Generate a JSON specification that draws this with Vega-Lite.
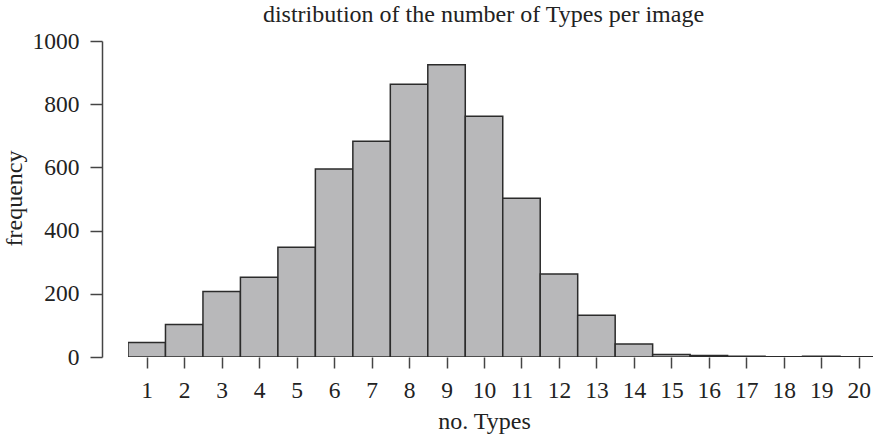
{
  "$schema": "https://vega.github.io/schema/vega-lite/v6.json",
  "width": 745,
  "height": 316,
  "autosize": {"type": "none"},
  "padding": {"left": 128, "top": 41, "right": 0, "bottom": 80},
  "background": "white",
  "config": {
    "view": {"stroke": null},
    "font": "Liberation Serif",
    "axis": {
      "labelFont": "Liberation Serif",
      "titleFont": "Liberation Serif",
      "labelFontSize": 23.5,
      "titleFontSize": 24,
      "labelColor": "#222222",
      "titleColor": "#222222",
      "titleFontWeight": "normal",
      "domainColor": "#444444",
      "tickColor": "#444444",
      "domainWidth": 1.5,
      "tickWidth": 1.5,
      "grid": false
    }
  },
  "title": {
    "text": "distribution of the number of Types per image",
    "font": "Liberation Serif",
    "fontSize": 24,
    "fontWeight": "normal",
    "color": "#222222",
    "anchor": "middle",
    "frame": "group",
    "baseline": "alphabetic",
    "offset": -17,
    "dx": -17
  },
  "data": {
    "values": [
      {"types": 1, "frequency": 46},
      {"types": 2, "frequency": 103},
      {"types": 3, "frequency": 207},
      {"types": 4, "frequency": 252},
      {"types": 5, "frequency": 347},
      {"types": 6, "frequency": 595},
      {"types": 7, "frequency": 683},
      {"types": 8, "frequency": 863},
      {"types": 9, "frequency": 925},
      {"types": 10, "frequency": 762},
      {"types": 11, "frequency": 502},
      {"types": 12, "frequency": 263},
      {"types": 13, "frequency": 132},
      {"types": 14, "frequency": 41},
      {"types": 15, "frequency": 8},
      {"types": 16, "frequency": 5},
      {"types": 17, "frequency": 2},
      {"types": 18, "frequency": 1},
      {"types": 19, "frequency": 2},
      {"types": 20, "frequency": 1}
    ]
  },
  "transform": [
    {"bin": {"step": 1, "extent": [0.5, 20.5], "nice": false}, "field": "types", "as": ["lo", "hi"]}
  ],
  "mark": {"type": "bar", "fill": "#b8b8ba", "stroke": "#2b2b2b", "strokeWidth": 1.5, "clip": true},
  "encoding": {
    "x": {
      "field": "lo",
      "type": "quantitative",
      "scale": {"domain": [0.5, 20.38], "nice": false, "zero": false},
      "axis": {
        "title": "no. Types",
        "values": [1,2,3,4,5,6,7,8,9,10,11,12,13,14,15,16,17,18,19,20],
        "domain": false,
        "tickSize": 11,
        "labelBaseline": "alphabetic",
        "labelPadding": 29,
        "labelFlush": false,
        "labelOverlap": false,
        "titleBaseline": "alphabetic",
        "titleX": 356,
        "titleY": 71
      }
    },
    "x2": {"field": "hi"},
    "y": {
      "field": "frequency",
      "type": "quantitative",
      "scale": {"domain": [0, 1000], "nice": false},
      "axis": {
        "title": "frequency",
        "values": [0, 200, 400, 600, 800, 1000],
        "format": "d",
        "offset": 26,
        "tickSize": 12,
        "labelPadding": 11,
        "titleBaseline": "alphabetic",
        "titleX": -81,
        "titleY": 157
      }
    },
    "y2": {"datum": 0}
  }
}
